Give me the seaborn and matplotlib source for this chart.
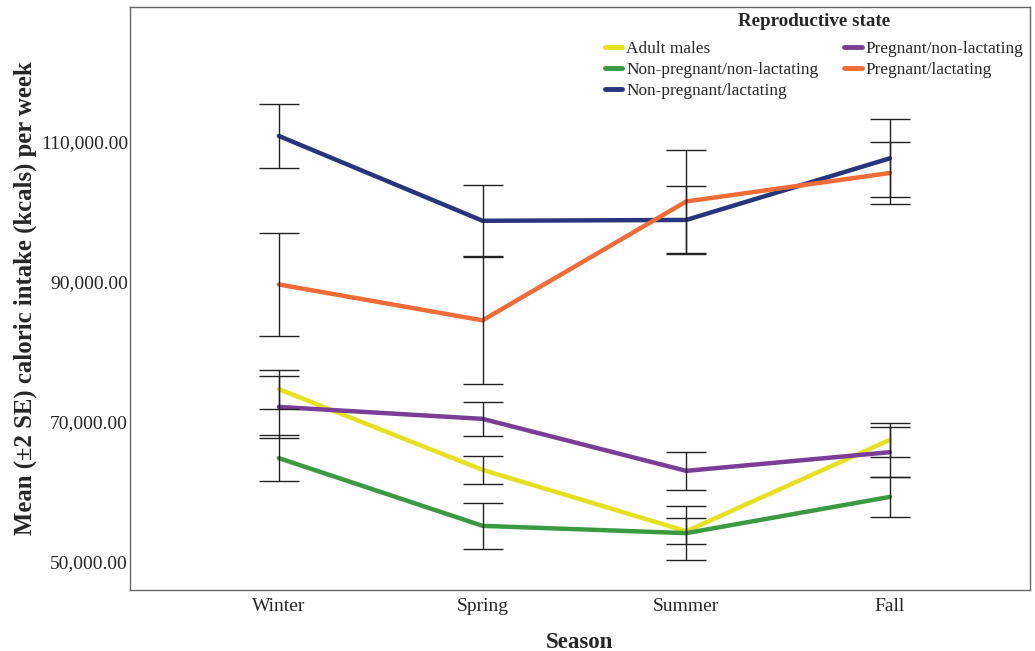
import numpy as np
import pandas as pd
import matplotlib
matplotlib.use("Agg")
import matplotlib.pyplot as plt
from matplotlib.ticker import FuncFormatter
import seaborn as sns

seasons = ["Winter", "Spring", "Summer", "Fall"]
groups = ["Adult males", "Non-pregnant/non-lactating", "Non-pregnant/lactating",
          "Pregnant/non-lactating", "Pregnant/lactating"]

# Mean weekly caloric intake (kcals) per season
adult_males = [74600, 63070, 54300, 67360]
nonpreg_nonlact = [64750, 55070, 54030, 59210]
nonpreg_lact = [110790, 98670, 98790, 107600]
preg_nonlact = [72070, 70360, 62930, 65600]
preg_lact = [89570, 84440, 101430, 105500]

# Two standard errors
adult_males_se2 = [2810, 1950, 1860, 2480]
nonpreg_nonlact_se2 = [3240, 3310, 3900, 2860]
nonpreg_lact_se2 = [4570, 5120, 4830, 5600]
preg_nonlact_se2 = [4470, 2380, 2690, 3570]
preg_lact_se2 = [7380, 9130, 7380, 4400]

colors = ["#E6E01F", "#3B9A41", "#27357F", "#7A3E97", "#F06B35"]

means = [adult_males, nonpreg_nonlact, nonpreg_lact, preg_nonlact, preg_lact]
errs = [adult_males_se2, nonpreg_nonlact_se2, nonpreg_lact_se2, preg_nonlact_se2, preg_lact_se2]

df = pd.DataFrame({
    "Season": np.tile(seasons, len(groups)),
    "Reproductive state": np.repeat(groups, len(seasons)),
    "kcal": np.concatenate(means),
})

sns.set_style("white")
plt.rcParams["font.family"] = ["Liberation Serif", "DejaVu Serif"]

fig, ax = plt.subplots(figsize=(10.35, 6.51), dpi=100)
fig.subplots_adjust(left=0.1256, right=0.995, top=0.989, bottom=0.094)

sns.lineplot(data=df, x="Season", y="kcal", hue="Reproductive state",
             hue_order=groups, palette=colors, linewidth=3.2, ax=ax,
             sort=False, errorbar=None, zorder=2)

xpos = np.arange(len(seasons))
for m, e in zip(means, errs):
    ax.errorbar(xpos, m, yerr=e, fmt="none", ecolor="#222222", elinewidth=1.0,
                capsize=14.5, capthick=1.0, zorder=3)

ax.set_xlim(-0.731, 3.687)
ax.set_ylim(45930, 129200)
ax.set_yticks([50000, 70000, 90000, 110000])
ax.yaxis.set_major_formatter(FuncFormatter(lambda v, p: f"{v:,.2f}"))
ax.tick_params(axis="both", labelsize=14, length=0)
ax.tick_params(axis="x", pad=6)
ax.tick_params(axis="y", pad=1.5)

ax.set_xlabel("Season", fontsize=16.5, fontweight="bold", labelpad=12)
ax.set_ylabel("Mean (\u00b12 SE) caloric intake (kcals) per week", fontsize=17.8,
              fontweight="bold", labelpad=3)

for s in ax.spines.values():
    s.set_color("#666666")
    s.set_linewidth(1.0)

handles, labels = ax.get_legend_handles_labels()
leg = ax.legend(handles, labels, title="Reproductive state", ncol=2,
                loc="upper right", bbox_to_anchor=(1.0, 1.0), frameon=False,
                fontsize=12.4, handlelength=1.0, handletextpad=0.25,
                columnspacing=1.5, labelspacing=0.28, borderaxespad=0.0,
                borderpad=0.35,
                title_fontproperties={"weight": "bold", "size": 13.7})
leg._legend_box.sep = 8
for h in leg.get_lines():
    h.set_linewidth(3.5)

fig.savefig("out.png", dpi=100)
